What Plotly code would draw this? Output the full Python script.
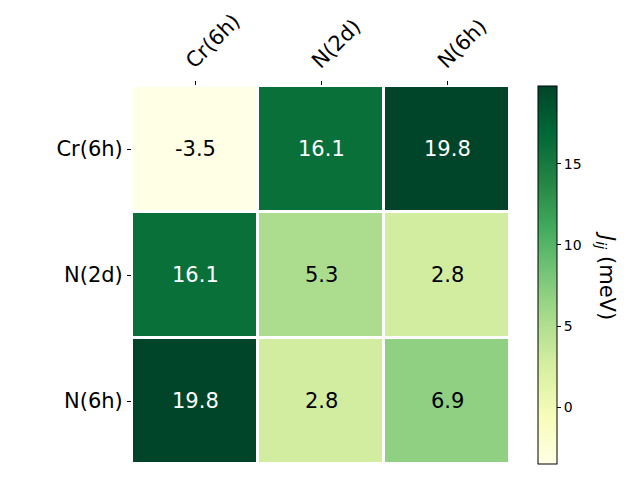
import plotly.graph_objects as go

labels = ["Cr(6h)", "N(2d)", "N(6h)"]
values = [
    [-3.5, 16.1, 19.8],
    [16.1, 5.3, 2.8],
    [19.8, 2.8, 6.9],
]
cbar_ticks = [0, 5, 10, 15]

zmin = min(min(r) for r in values)
zmax = max(max(r) for r in values)

fig = go.Figure()
fig.add_trace(go.Heatmap(
    z=values, x=labels, y=labels,
    colorscale="YlGn", zmin=zmin, zmax=zmax,
    xgap=3, ygap=3,
    hoverinfo="skip",
    colorbar=dict(
        x=(538 - 132) / 378, xanchor="left", xpad=0,
        y=0.5, yanchor="middle", len=1.0, lenmode="fraction", ypad=0,
        thickness=19, thicknessmode="pixels",
        outlinewidth=1, outlinecolor="black",
        ticks="outside", ticklen=4, tickwidth=1, tickcolor="black",
        tickvals=cbar_ticks,
        tickfont=dict(family="DejaVu Sans", size=14, color="black"),
    ),
))

annotations = []
for i, row in enumerate(values):
    for j, v in enumerate(row):
        frac = (v - zmin) / (zmax - zmin)
        annotations.append(dict(
            x=labels[j], y=labels[i], text=f"{v:.1f}", showarrow=False,
            font=dict(family="DejaVu Sans", size=21,
                      color="white" if frac > 0.6 else "black"),
        ))
annotations.append(dict(
    xref="paper", yref="paper", x=(606 - 132) / 378, y=0.5,
    xanchor="center", yanchor="middle",
    text="<i>J</i><sub><i>ij</i></sub> (meV)", textangle=90, showarrow=False,
    font=dict(family="DejaVu Sans", size=21, color="black"),
))

fig.update_layout(
    width=640, height=480,
    margin=dict(l=132, r=130, t=86, b=16, autoexpand=False),
    paper_bgcolor="white", plot_bgcolor="white",
    font=dict(family="DejaVu Sans", color="black"),
    annotations=annotations,
    xaxis=dict(side="top", tickangle=-45, ticks="outside", ticklen=4,
               tickcolor="black", tickfont=dict(size=21), showgrid=False,
               zeroline=False, showline=False, automargin=False,
               ticklabelshift=-8),
    yaxis=dict(autorange="reversed", ticks="outside", ticklen=4,
               tickcolor="black", tickfont=dict(size=21), showgrid=False,
               zeroline=False, showline=False, automargin=False),
)

fig.write_html("out.html", config={"displayModeBar": False},
               post_script="document.body.style.margin='0';")
